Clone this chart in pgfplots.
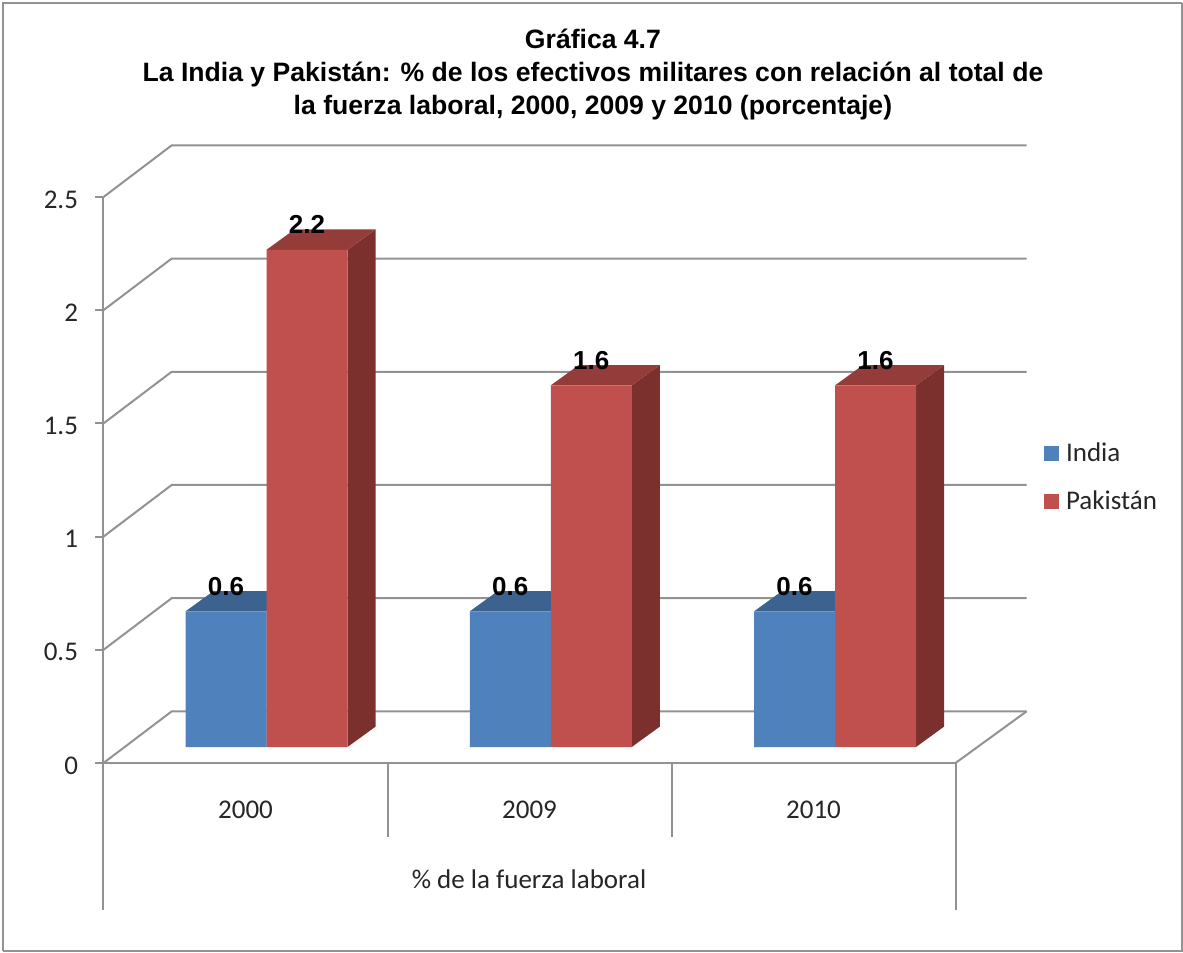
\documentclass[border=0pt]{standalone}
\usepackage{fontspec}
\setmainfont{Carlito}
\newfontfamily\arialfont{Liberation Sans}
\usepackage{pgfplots}
\pgfplotsset{compat=1.18}

\definecolor{indiafront}{HTML}{4F81BD}
\definecolor{indiatop}{HTML}{3C628F}
\definecolor{pakfront}{HTML}{C0504D}
\definecolor{paktop}{HTML}{943C3A}
\definecolor{pakside}{HTML}{7B302E}
\definecolor{gridgray}{HTML}{929292}

% 1 px of the reference = 0.6pt
\newcommand{\labelfont}{\fontsize{16.2}{16.2}\selectfont}

% depth of a bar: side and top face, #1 left edge, #2 value, #3 top colour, #4 side colour
\newcommand{\barfaces}[4]{%
  \pgfmathsetmacro{\xa}{#1}%
  \pgfmathsetmacro{\xb}{#1+0.285}%
  \pgfmathsetmacro{\xc}{#1+0.0985}%
  \pgfmathsetmacro{\xd}{#1+0.285+0.0985}%
  \pgfmathsetmacro{\yb}{0.09}%
  \pgfmathsetmacro{\yt}{#2+0.09}%
  \addplot[fill=#4,draw=none,forget plot] coordinates {(\xb,0) (\xd,\yb) (\xd,\yt) (\xb,#2)};
  \addplot[fill=#3,draw=none,forget plot] coordinates {(\xa,#2) (\xb,#2) (\xd,\yt) (\xc,\yt)};
}
% one wall line: front tick level #1, level at the back wall #2
\newcommand{\wall}[2]{%
  \addplot[gridgray,line width=1.2pt,forget plot] coordinates {(-0.5,#1) (-0.26,#2) (2.75,#2)};
}

\begin{document}
\begin{tikzpicture}
\useasboundingbox (0,0) rectangle (709.8pt,571.2pt);
\draw[color=gray!85,line width=0.9pt] (709.3pt,569.4pt) -- (709.3pt,0.5pt) -- (1.8pt,0.5pt);
\draw[color=gray!85,line width=1.5pt] (1.8pt,0.5pt) -- (1.8pt,569.4pt) -- (709.3pt,569.4pt);

% floor, walls and category table
\begin{axis}[
  at={(62.1pt,113.4pt)},
  scale only axis,
  width=511.2pt, height=339.6pt,
  xmin=-0.5, xmax=2.5, ymin=0, ymax=2.5,
  clip=false,
  axis x line=bottom, axis y line=left,
  axis line style={-,color=gridgray,line width=1.2pt},
  xtick={0,1,2}, xticklabels={2000,2009,2010},
  ytick={0,0.5,1,1.5,2,2.5},
  xtick style={draw=none},
  ytick style={color=gridgray,line width=1.2pt},
  tick align=outside,
  major tick length=4.8pt,
  /pgf/number format/assume math mode=true,
  tick label style={font=\labelfont,text=black!85},
  xticklabel style={anchor=center,yshift=-23.4pt},
  yticklabel style={anchor=east,xshift=-7pt,yshift=-1.5pt},
  xlabel={\% de la fuerza laboral},
  xlabel style={font=\labelfont,text=black!85,at={(axis description cs:0.4994,-0.205)},anchor=center},
  title={Gráfica 4.7\\La India y Pakistán: \% de los efectivos militares con relación al total de\\la fuerza laboral, 2000, 2009 y 2010 (porcentaje)},
  title style={font=\arialfont\bfseries\fontsize{15.95}{19.8}\selectfont,at={(axis description cs:0.5745,1.198)},anchor=center,align=center},
]
\wall{0}{0.228}
\wall{0.5}{0.728}
\wall{1}{1.228}
\wall{1.5}{1.728}
\wall{2}{2.228}
\wall{2.5}{2.728}
\addplot[gridgray,line width=1.2pt,forget plot] coordinates {(2.5,0) (2.75,0.228)};
% category table under the floor
\addplot[gridgray,line width=1.2pt,forget plot] coordinates {(-0.5,0) (-0.5,-0.65)};
\addplot[gridgray,line width=1.2pt,forget plot] coordinates {(2.5,0) (2.5,-0.65)};
\addplot[gridgray,line width=1.2pt,forget plot] coordinates {(0.5,0) (0.5,-0.327)};
\addplot[gridgray,line width=1.2pt,forget plot] coordinates {(1.5,0) (1.5,-0.327)};
\end{axis}

% the bars: category i has its India/Pakistan joint at x=i
\begin{axis}[
  at={(74.625pt,123pt)},
  scale only axis,
  width=511.65pt, height=339pt,
  xmin=-0.5, xmax=2.5, ymin=0, ymax=2.5,
  clip=false,
  axis lines=none,
  /pgf/number format/assume math mode=true,
  legend style={at={(axis description cs:1.0777,0.4774)},anchor=west,draw=none,fill=none,
    font=\labelfont,text=black!85,row sep=12.3pt,inner sep=0pt,
    /tikz/every odd column/.append style={column sep=2.4pt}},
  legend cell align=left,
  nodes near coords style={font=\arialfont\bfseries\fontsize{15.6}{15.6}\selectfont,text=black,anchor=center,yshift=15pt},
]
\barfaces{-0.285}{0.6}{indiatop}{indiafront}
\barfaces{0.715}{0.6}{indiatop}{indiafront}
\barfaces{1.715}{0.6}{indiatop}{indiafront}
\addplot[ybar,bar width=48.6pt,bar shift=-24.3pt,fill=indiafront,draw=none,
  nodes near coords,every node near coord/.append style={xshift=-24.3pt},
  area legend,legend image code/.code={\fill[indiafront] (0pt,-4.5pt) rectangle (9pt,4.5pt);}]
  coordinates {(0,0.6) (1,0.6) (2,0.6)};
\addlegendentry{India}
\barfaces{0}{2.2}{paktop}{pakside}
\barfaces{1}{1.6}{paktop}{pakside}
\barfaces{2}{1.6}{paktop}{pakside}
\addplot[ybar,bar width=48.6pt,bar shift=24.3pt,fill=pakfront,draw=none,
  nodes near coords,every node near coord/.append style={xshift=24.3pt},
  area legend,legend image code/.code={\fill[pakfront] (0pt,-4.5pt) rectangle (9pt,4.5pt);}]
  coordinates {(0,2.2) (1,1.6) (2,1.6)};
\addlegendentry{Pakistán}
\end{axis}
\end{tikzpicture}
\end{document}
